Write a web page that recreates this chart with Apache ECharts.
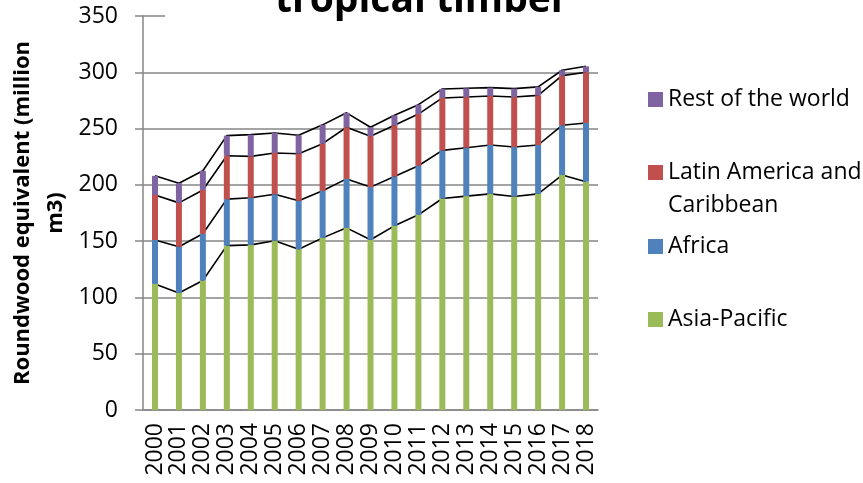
<!DOCTYPE html>
<html>
<head>
<meta charset="utf-8">
<script src="https://cdn.jsdelivr.net/npm/echarts@6/dist/echarts.min.js"></script>
<style>
html,body{margin:0;padding:0;background:#fff;}
#chart{width:863px;height:483px;}
</style>
</head>
<body>
<div id="chart"></div>
<script>
var categories = ['2000','2001','2002','2003','2004','2005','2006','2007','2008','2009','2010','2011','2012','2013','2014','2015','2016','2017','2018'];
var asiaPacific = [112, 104, 115, 146, 146.7, 150.3, 142.8, 152.9, 161.8, 151.2, 163.6, 173.4, 187.9, 190, 192, 189.7, 192, 208.7, 202.8];
var africa = [39, 41, 41.5, 41.3, 41.8, 41.4, 43, 41.8, 43.5, 46.8, 43.9, 43.6, 42.7, 43, 43.4, 43.9, 43.4, 44.2, 52.2];
var latinAmerica = [40, 39, 39, 38.6, 36.8, 36.6, 41.9, 41.9, 45.9, 45.2, 45.4, 45.9, 46.6, 45, 43.6, 44.4, 44.1, 44.1, 45];
var restOfWorld = [17, 17.5, 17, 17.8, 19.3, 17.8, 16.3, 16.7, 12.8, 8, 8.9, 8.3, 8, 7.8, 7.4, 7.5, 7.5, 4.8, 5.3];
var seriesNames = ['Asia-Pacific', 'Africa', 'Latin America and Caribbean', 'Rest of the world'];
var seriesColors = ['#9BBB59', '#4F81BD', '#C0504D', '#8064A2'];
var seriesData = [asiaPacific, africa, latinAmerica, restOfWorld];
var yTicks = {min: 0, max: 350, interval: 50};

var chart = echarts.init(document.getElementById('chart'));
var series = [];
seriesData.forEach(function (d, i) {
  series.push({
    name: seriesNames[i], type: 'bar', stack: 'bars', data: d, barWidth: 6,
    itemStyle: {color: seriesColors[i]}, z: 3
  });
});
seriesData.forEach(function (d, i) {
  series.push({
    name: 'line-' + i, type: 'line', stack: 'lines', data: d, symbol: 'none',
    lineStyle: {color: '#000', width: 1.6}, itemStyle: {color: '#000'}, z: 1, silent: true
  });
});

var legendText = {fontFamily: 'Open Sans', fontSize: 23, lineHeight: 33, color: '#000'};
function makeLegend(name, top) {
  return {
    orient: 'vertical', left: 648, top: top, padding: 0, itemWidth: 15, itemHeight: 15,
    icon: 'rect', data: [name],
    formatter: function (n) {
      return n === 'Latin America and Caribbean' ? '\nLatin America and\nCaribbean' : n;
    },
    textStyle: legendText
  };
}

chart.setOption({
  animation: false,
  textStyle: {fontFamily: 'Open Sans'},
  title: {
    text: 'tropical timber', left: 165, top: -19, padding: [0, 110, 0, 110],
    backgroundColor: '#fff',
    textStyle: {fontFamily: 'Open Sans', fontWeight: 'bold', fontSize: 39, lineHeight: 39, color: '#000'}
  },
  grid: {left: 143, right: 265, top: 16, bottom: 73, containLabel: false, outerBoundsMode: 'none'},
  legend: [
    makeLegend('Rest of the world', 83),
    makeLegend('Latin America and Caribbean', 123),
    makeLegend('Africa', 230),
    makeLegend('Asia-Pacific', 303)
  ],
  xAxis: {
    type: 'category', data: categories,
    axisLine: {lineStyle: {color: '#868686', width: 1.5}},
    axisTick: {show: false},
    axisLabel: {rotate: 90, fontSize: 23, color: '#000', margin: 13, interval: 0, fontFamily: 'Open Sans'}
  },
  yAxis: {
    type: 'value', min: yTicks.min, max: yTicks.max, interval: yTicks.interval,
    name: 'Roundwood equivalent (million\nm3)', nameLocation: 'middle', nameGap: 71,
    nameMoveOverlap: false,
    nameTextStyle: {fontFamily: 'Open Sans', fontWeight: 'bold', fontSize: 22, lineHeight: 33, color: '#000'},
    axisLine: {show: true, lineStyle: {color: '#868686', width: 1.5}},
    axisTick: {show: true, inside: false, length: 8, lineStyle: {color: '#868686', width: 1.5}},
    axisLabel: {fontSize: 23, color: '#000', margin: 25, fontFamily: 'Open Sans'},
    splitLine: {show: true, lineStyle: {color: '#868686', width: 1.5}}
  },
  series: series
});
</script>
</body>
</html>
